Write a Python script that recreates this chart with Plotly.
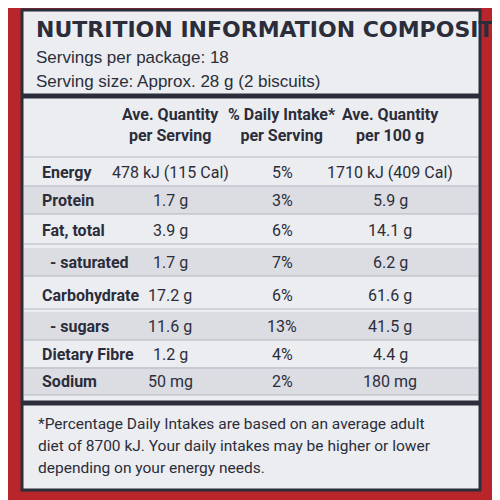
import plotly.graph_objects as go

title = "NUTRITION INFORMATION COMPOSITE"
servings = ["Servings per package: 18", "Serving size: Approx. 28 g (2 biscuits)"]
headers = [["Ave. Quantity", "per Serving"], ["% Daily Intake*", "per Serving"], ["Ave. Quantity", "per 100 g"]]
nutrients = ["Energy", "Protein", "Fat, total", "  - saturated", "Carbohydrate", "  - sugars", "Dietary Fibre", "Sodium"]
per_serving = ["478 kJ (115 Cal)", "1.7 g", "3.9 g", "1.7 g", "17.2 g", "11.6 g", "1.2 g", "50 mg"]
daily_intake = ["5%", "3%", "6%", "7%", "6%", "13%", "4%", "2%"]
per_100g = ["1710 kJ (409 Cal)", "5.9 g", "14.1 g", "6.2 g", "61.6 g", "41.5 g", "4.4 g", "180 mg"]
footnote = ["*Percentage Daily Intakes are based on an average adult",
            "diet of 8700 kJ. Your daily intakes may be higher or lower",
            "depending on your energy needs."]

row_y = [172, 200, 230, 262, 295, 326, 354, 381]
col_x = [170, 282, 390]
F = "Liberation Sans Narrow, Roboto, Arial"
DARK = "#2b2d3a"

fig = go.Figure()
shapes = [
    dict(type="rect", x0=0, x1=520, y0=0, y1=520, fillcolor="#b8262c", line_width=0, layer="below"),
    dict(type="rect", x0=22, x1=480, y0=10, y1=490, fillcolor="#ecedf1", line=dict(color=DARK, width=3), layer="below"),
    dict(type="line", x0=22, x1=480, y0=96, y1=96, line=dict(color=DARK, width=5)),
    dict(type="line", x0=22, x1=480, y0=403, y1=403, line=dict(color=DARK, width=5)),
]
for i, y in enumerate(row_y):
    if i % 2 == 1:
        shapes.append(dict(type="rect", x0=24, x1=478, y0=y - 14, y1=y + 14, fillcolor="#dcdde3", line_width=0, layer="below"))
    shapes.append(dict(type="line", x0=24, x1=478, y0=y + 14, y1=y + 14, line=dict(color="#b5b7c0", width=1)))
shapes.append(dict(type="line", x0=24, x1=478, y0=157, y1=157, line=dict(color="#b5b7c0", width=1)))

ann = [dict(x=34, y=29, text="<b>" + title + "</b>", xanchor="left", font=dict(size=22, color=DARK, family="DejaVu Sans, Arial"))]
for k, s in enumerate(servings):
    ann.append(dict(x=34, y=57 + k * 24, text=s, xanchor="left", font=dict(size=17, color=DARK, family="Liberation Sans, Arial")))
for x, h in zip(col_x, headers):
    ann.append(dict(x=x, y=125, text="<b>" + h[0] + "<br>" + h[1] + "</b>", xanchor="center", font=dict(size=16, color=DARK, family=F)))
for i, y in enumerate(row_y):
    name = nutrients[i]
    txt = name.strip() if not name.startswith(" ") else "&nbsp;&nbsp;" + name.strip()
    ann.append(dict(x=40, y=y, text="<b>" + txt + "</b>", xanchor="left", font=dict(size=16, color=DARK, family=F)))
    for x, v in zip(col_x, [per_serving[i], daily_intake[i], per_100g[i]]):
        ann.append(dict(x=x, y=y, text=v, xanchor="center", font=dict(size=16, color=DARK, family=F)))
for k, s in enumerate(footnote):
    ann.append(dict(x=36, y=424 + k * 22, text=s, xanchor="left", font=dict(size=15.5, color=DARK, family=F)))
for a in ann:
    a.update(showarrow=False, yanchor="middle", xref="x", yref="y")

fig.update_layout(width=500, height=500, margin=dict(l=0, r=0, t=0, b=0),
                  shapes=shapes, annotations=ann, plot_bgcolor="#b8262c", paper_bgcolor="#b8262c",
                  xaxis=dict(range=[8, 508], visible=False, fixedrange=True),
                  yaxis=dict(range=[508, 8], visible=False, fixedrange=True),
                  showlegend=False)
fig.write_html("out.html")
